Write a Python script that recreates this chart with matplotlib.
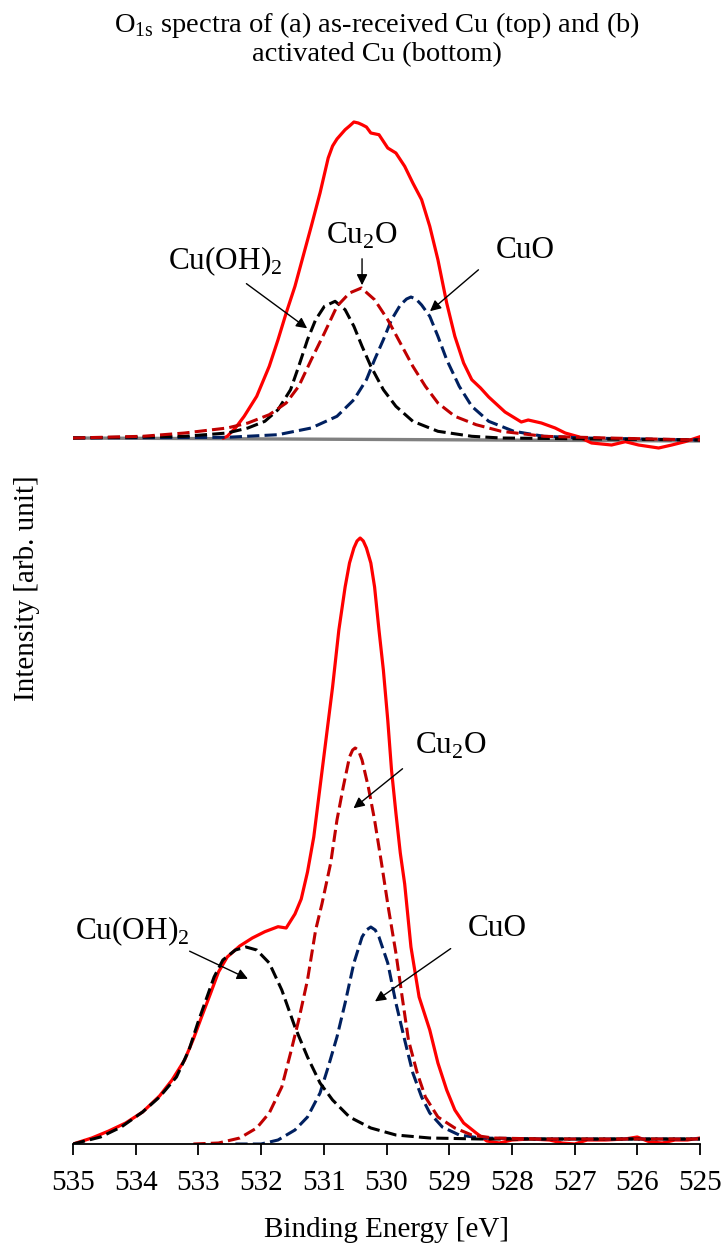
import numpy as np
import matplotlib
matplotlib.use("Agg")
import matplotlib.pyplot as plt

plt.rcParams['font.family'] = ['Liberation Serif', 'DejaVu Serif']
plt.rcParams['mathtext.fontset'] = 'custom'
plt.rcParams['mathtext.rm'] = 'Liberation Serif'

# ---- (a) as-received Cu, values relative to its own baseline ----
top_env_e = [532.60, 532.54, 532.41, 532.27, 532.07, 531.87, 531.73, 531.60, 531.46, 531.33,
             531.20, 531.06, 530.93, 530.86, 530.79, 530.66, 530.59, 530.52, 530.45, 530.39,
             530.32, 530.25, 530.12, 529.98, 529.85, 529.71, 529.58, 529.44, 529.31, 529.18,
             529.04, 528.91, 528.77, 528.64, 528.50, 528.37, 528.11, 527.85, 527.74, 527.53,
             527.31, 527.15, 526.94, 526.73, 526.41, 526.19, 525.98, 525.66, 525.45, 525.24,
             525.00]
top_env_i = [0.0, 1.7, 10.0, 21.7, 41.7, 71.7, 98.3, 125.0, 151.7, 181.7,
             211.7, 245.0, 280.0, 292.0, 299.0, 308.3, 312.0, 316.0, 315.0, 313.3,
             311.0, 305.0, 303.3, 290.0, 285.0, 271.7, 255.0, 238.3, 211.7, 178.3,
             135.0, 101.7, 75.0, 58.3, 50.0, 41.0, 26.0, 16.0, 18.0, 15.0,
             10.0, 5.0, 1.3, -5.0, -7.0, -3.7, -7.0, -10.0, -7.0, -3.7,
             1.3]

top_cu2o_e = [535.0, 533.89, 533.22, 532.54, 532.21, 531.87, 531.60, 531.40, 531.20, 530.99,
              530.79, 530.59, 530.40, 530.19, 529.98, 529.78, 529.58, 529.38, 529.18, 528.91,
              528.57, 528.17, 527.49, 526.48, 525.0]
top_cu2o_i = [0.0, 1.7, 5.0, 10.0, 15.0, 23.3, 35.0, 51.7, 78.3, 105.0,
              131.7, 145.0, 150.0, 138.3, 118.3, 95.0, 71.7, 51.7, 35.0, 21.7,
              13.3, 6.7, 1.7, 0.0, -2.0]

top_oh_e = [535.0, 533.22, 532.54, 532.21, 531.94, 531.73, 531.53, 531.40, 531.26, 531.13,
            530.99, 530.82, 530.66, 530.52, 530.39, 530.25, 530.05, 529.85, 529.58, 529.18,
            528.64, 528.17, 525.0]
top_oh_i = [0.0, 1.7, 5.0, 10.0, 16.7, 28.3, 48.3, 71.7, 98.3, 118.3,
            131.7, 136.7, 128.3, 111.7, 91.7, 71.7, 48.3, 31.7, 16.7, 6.7,
            1.7, 0.0, -2.0]

top_cuo_e = [535.0, 532.54, 531.73, 531.20, 530.79, 530.52, 530.32, 530.19, 530.05, 529.92,
             529.78, 529.68, 529.61, 529.53, 529.44, 529.31, 529.18, 529.04, 528.84, 528.64,
             528.37, 527.97, 527.49, 526.84, 525.0]
top_cuo_i = [0.0, 0.7, 3.3, 10.0, 21.7, 38.3, 58.3, 78.3, 98.3, 118.3,
             133.0, 139.0, 141.0, 139.0, 133.0, 121.7, 101.7, 78.3, 51.7, 31.7,
             16.7, 6.7, 1.7, 0.0, -2.0]

top_bg_e = [535.0, 525.0]
top_bg_i = [0.0, -3.0]

# ---- (b) activated Cu ----
bot_env_e = [535.00, 534.70, 534.43, 534.16, 533.89, 533.62, 533.42, 533.22, 533.08, 532.95,
             532.81, 532.68, 532.54, 532.34, 532.14, 531.94, 531.73, 531.60, 531.46, 531.36,
             531.26, 531.16, 531.06, 530.96, 530.86, 530.76, 530.66, 530.59, 530.52, 530.47,
             530.42, 530.37, 530.32, 530.25, 530.19, 530.12, 530.05, 529.98, 529.92, 529.85,
             529.78, 529.71, 529.61, 529.48, 529.31, 529.18, 529.04, 528.91, 528.77, 528.57,
             528.40, 528.20, 528.00, 527.70, 527.40, 527.20, 527.00, 526.80, 526.50, 526.20,
             526.00, 525.80, 525.60, 525.40, 525.20, 525.00]
bot_env_i = [0.0, 6.0, 13.0, 21.0, 32.0, 48.0, 64.0, 84.0, 105.0, 127.0,
             150.0, 172.0, 187.0, 198.0, 206.0, 212.3, 217.3, 216.0, 230.0, 245.0,
             272.0, 307.0, 357.0, 407.0, 457.0, 514.0, 557.0, 581.0, 596.0, 603.0,
             606.0, 603.0, 596.0, 581.0, 557.0, 514.0, 474.0, 424.0, 374.0, 331.0,
             291.0, 260.0, 197.0, 147.0, 114.0, 81.0, 54.0, 34.0, 21.0, 11.0,
             3.0, 1.0, 4.0, 5.0, 4.0, 1.0, 0.0, 4.0, 4.0, 5.0,
             7.0, 2.0, 1.0, 4.0, 4.0, 6.0]

bot_cu2o_e = [533.08, 532.68, 532.34, 532.07, 531.87, 531.67, 531.53, 531.40, 531.26, 531.13,
              531.03, 530.89, 530.79, 530.69, 530.59, 530.54, 530.50, 530.45, 530.39, 530.29,
              530.19, 530.08, 529.97, 529.85, 529.75, 529.65, 529.51, 529.38, 529.18, 528.91,
              528.64, 528.30, 527.50, 525.0]
bot_cu2o_i = [0.0, 1.0, 6.0, 16.0, 31.0, 57.0, 91.0, 124.0, 164.0, 214.0,
              240.0, 281.0, 324.0, 357.0, 387.0, 394.0, 396.0, 394.0, 384.0, 357.0,
              324.0, 281.0, 236.0, 191.0, 147.0, 104.0, 71.0, 47.0, 27.0, 16.0,
              9.0, 6.0, 5.0, 5.0]

bot_oh_e = [535.00, 534.56, 534.23, 533.89, 533.62, 533.35, 533.15, 533.01, 532.88, 532.75,
            532.61, 532.41, 532.24, 532.07, 531.87, 531.67, 531.46, 531.26, 531.06, 530.86,
            530.59, 530.25, 529.85, 529.31, 528.50, 525.0]
bot_oh_i = [0.0, 7.0, 17.0, 32.0, 47.0, 67.0, 94.0, 121.0, 144.0, 167.0,
            184.0, 194.0, 197.0, 194.0, 181.0, 154.0, 117.0, 87.0, 61.0, 44.0,
            27.0, 16.0, 9.0, 6.0, 5.0, 5.0]

bot_cuo_e = [532.41, 532.00, 531.73, 531.46, 531.26, 531.06, 530.93, 530.79, 530.66, 530.52,
             530.39, 530.32, 530.25, 530.18, 530.12, 529.98, 529.85, 529.71, 529.58, 529.44,
             529.31, 529.11, 528.84, 528.50, 527.50, 525.0]
bot_cuo_i = [0.0, 0.0, 4.0, 14.0, 27.0, 51.0, 77.0, 107.0, 141.0, 181.0,
             207.0, 214.0, 217.0, 214.0, 207.0, 181.0, 141.0, 104.0, 71.0, 47.0,
             31.0, 17.0, 9.0, 6.0, 5.0, 5.0]

top_offset = 706.0
x_ticks = list(range(535, 524, -1))

RED = '#FF0000'
DARKRED = '#C00000'
NAVY = '#002060'
DASH = (0, (4.0, 1.7))

fig = plt.figure(figsize=(7.25, 12.47), dpi=100)
ax = fig.add_axes([73 / 725, 103 / 1247, 627 / 725, 1044 / 1247])

def shift(vals):
    return np.array(vals) + top_offset

# top spectrum
ax.plot(top_bg_e, shift(top_bg_i), color='#808080', lw=2.4, solid_capstyle='butt')
ax.plot(top_env_e, shift(top_env_i), color=RED, lw=2.3)
ax.plot(top_cuo_e, shift(top_cuo_i), color=NAVY, lw=2.2, ls=DASH)
ax.plot(top_oh_e, shift(top_oh_i), color='black', lw=2.2, ls=DASH)
ax.plot(top_cu2o_e, shift(top_cu2o_i), color=DARKRED, lw=2.2, ls=DASH)

# bottom spectrum
ax.plot(bot_env_e, bot_env_i, color=RED, lw=2.3)
ax.plot(bot_cuo_e, bot_cuo_i, color=NAVY, lw=2.2, ls=DASH)
ax.plot(bot_oh_e, bot_oh_i, color='black', lw=2.2, ls=DASH)
ax.plot(bot_cu2o_e, bot_cu2o_i, color=DARKRED, lw=2.2, ls=DASH)

fs = 21
arrow = dict(arrowstyle='-|>', color='black', lw=1.0, mutation_scale=16)

def label(txt, tx, ty, tail, head):
    ax.text(tx, ty, txt, fontsize=22.5, ha='center', va='center')
    ax.annotate('', xy=head, xytext=tail, arrowprops=arrow)

cu2o = r'Cu$_{\mathregular{2}}$O'
cuoh = r'Cu(OH)$_{\mathregular{2}}$'

label(cuoh, 532.58, top_offset + 177, (532.27, top_offset + 156), (531.23, top_offset + 108))
label(cu2o, 530.39, top_offset + 202, (530.39, top_offset + 182), (530.39, top_offset + 150))
label('CuO', 527.79, top_offset + 188, (528.50, top_offset + 170), (529.34, top_offset + 125))

label(cu2o, 528.97, 398, (529.71, 377), (530.56, 334))
label(cuoh, 534.06, 213, (533.18, 194), (532.17, 164))
label('CuO', 528.23, 216, (528.94, 197), (530.22, 141))

ax.set_xlim(535, 525)
ax.set_ylim(0, 1044)
ax.set_xticks(x_ticks)
ax.set_yticks([])
for s in ['top', 'right', 'left']:
    ax.spines[s].set_visible(False)
ax.spines['bottom'].set_linewidth(1.3)
ax.tick_params(axis='x', direction='out', length=8, width=1.3, pad=11, labelsize=fs)
ax.set_xlabel('Binding Energy [eV]', fontsize=fs, labelpad=15)

fig.text(27 / 725, 1 - 588 / 1247, 'Intensity [arb. unit]', rotation=90,
         fontsize=fs, ha='center', va='center')
fig.text(377 / 725, 1 - 32 / 1247, r'O$_{\mathregular{1s}}$ spectra of (a) as-received Cu (top) and (b)',
         fontsize=20.5, ha='center', va='baseline')
fig.text(377 / 725, 1 - 61 / 1247, 'activated Cu (bottom)',
         fontsize=20.5, ha='center', va='baseline')

fig.savefig('out.png', dpi=100)
